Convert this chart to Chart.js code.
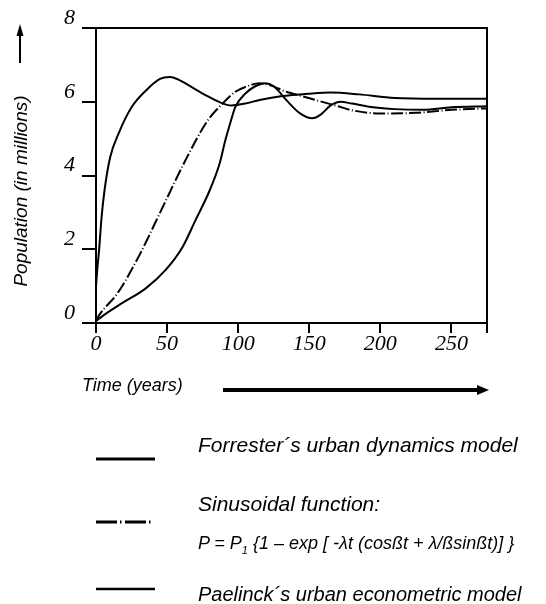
<!DOCTYPE html>
<html><head><meta charset="utf-8">
<script src="https://cdn.jsdelivr.net/npm/chart.js@4"></script>
<style>
html,body{margin:0;padding:0;background:#fff;}
#wrap{position:relative;width:546px;height:604px;overflow:hidden;background:#fff;}
#chartBox{position:absolute;left:0;top:0;width:546px;height:604px;}
.t{position:absolute;font-family:"Liberation Sans",Arial,sans-serif;font-style:italic;color:#000;white-space:nowrap;line-height:1;}
svg.ov{position:absolute;left:0;top:0;pointer-events:none;}
</style></head><body>
<div id="wrap">
  <div id="chartBox"><canvas id="c"></canvas></div>
  <svg class="ov" width="546" height="604">
    <line x1="20" y1="34" x2="20" y2="63" stroke="#000" stroke-width="2"/>
    <polygon points="20,24 16.5,36 23.5,36" fill="#000"/>
    <line x1="223" y1="390" x2="480" y2="390" stroke="#000" stroke-width="4"/>
    <polygon points="489,390 477,385 477,395" fill="#000"/>
    <line x1="96" y1="459" x2="155" y2="459" stroke="#000" stroke-width="3"/>
    <line x1="96" y1="522" x2="151" y2="522" stroke="#000" stroke-width="3" stroke-dasharray="21 3 1.5 3.5"/>
    <line x1="96" y1="589" x2="155" y2="589" stroke="#000" stroke-width="2.5"/>
  </svg>
  <div class="t" id="ytitle" style="left:20px;top:191px;font-size:19px;transform:translate(-50%,-50%) rotate(-90deg);">Population (in millions)</div>
  <div class="t" style="left:82px;top:376px;font-size:18px;">Time (years)</div>
  <div class="t" style="left:198px;top:434px;font-size:21px;">Forrester´s urban dynamics model</div>
  <div class="t" style="left:198px;top:493px;font-size:21px;">Sinusoidal function:</div>
  <div class="t" style="left:198px;top:534px;font-size:18px;">P = P<sub style="font-size:11px;line-height:0;">1</sub> {1 – exp [ -λt (cosßt + λ/ßsinßt)] }</div>
  <div class="t" style="left:198px;top:584px;font-size:20px;">Paelinck´s urban econometric model</div>
</div>
<script>
// ---- data ----
const xTickValues = [0, 50, 100, 150, 200, 250, 275];
const xTickLabels = ['0', '50', '100', '150', '200', '250', ''];
const yTickValues = [0, 2, 4, 6, 8];
const yTickLabels = ['0', '2', '4', '6', '8'];

const forresterYears = [0, 1, 2, 4, 6, 10, 16, 25, 35, 45, 52, 58, 65, 77, 88, 95, 105, 115, 130, 150, 165, 185, 210, 240, 275];
const forresterPop   = [1.0, 1.5, 1.9, 2.9, 3.6, 4.5, 5.15, 5.85, 6.3, 6.62, 6.67, 6.6, 6.45, 6.18, 5.97, 5.9, 5.95, 6.05, 6.15, 6.22, 6.25, 6.2, 6.1, 6.08, 6.08];

const sinusoidalYears = [0, 2, 15, 30, 47, 63, 78, 89, 98, 105, 115, 122, 134, 145, 157, 170, 180, 200, 225, 250, 275];
const sinusoidalPop   = [0.05, 0.2, 0.8, 1.8, 3.15, 4.42, 5.46, 5.95, 6.27, 6.4, 6.5, 6.45, 6.27, 6.15, 6.02, 5.88, 5.77, 5.68, 5.7, 5.78, 5.82];

const paelinckYears = [0, 5, 18, 35, 49, 61, 70, 80, 87, 91, 95, 98, 105, 112, 119, 125, 134, 143, 152, 158, 165, 172, 180, 195, 210, 230, 250, 275];
const paelinckPop   = [0.05, 0.2, 0.53, 0.94, 1.44, 2.07, 2.79, 3.6, 4.33, 4.96, 5.5, 5.86, 6.22, 6.42, 6.5, 6.42, 6.04, 5.7, 5.55, 5.65, 5.9, 6.0, 5.95, 5.85, 5.8, 5.78, 5.85, 5.88];

const seriesNames = ['Forrester´s urban dynamics model', 'Sinusoidal function', 'Paelinck´s urban econometric model'];

function pts(xs, ys) { return xs.map((x, i) => ({ x: x, y: ys[i] })); }

const tickFont = { family: '"Liberation Serif", "Times New Roman", serif', style: 'italic', size: 22, lineHeight: 1 };

const framePlugin = {
  id: 'frame',
  afterDraw(chart) {
    const a = chart.chartArea, ctx = chart.ctx;
    ctx.save();
    ctx.strokeStyle = '#000';
    ctx.lineWidth = 2;
    ctx.beginPath();
    ctx.moveTo(a.left, a.top);
    ctx.lineTo(a.right, a.top);
    ctx.lineTo(a.right, a.bottom);
    ctx.stroke();
    ctx.restore();
  }
};

const common = { borderColor: '#000', borderWidth: 2, pointRadius: 0, fill: false, cubicInterpolationMode: 'monotone' };

new Chart(document.getElementById('c'), {
  type: 'line',
  data: {
    datasets: [
      Object.assign({ label: seriesNames[0], data: pts(forresterYears, forresterPop) }, common),
      Object.assign({ label: seriesNames[1], data: pts(sinusoidalYears, sinusoidalPop), borderDash: [12, 2.5, 1, 2.5] }, common),
      Object.assign({ label: seriesNames[2], data: pts(paelinckYears, paelinckPop) }, common)
    ]
  },
  options: {
    responsive: true,
    maintainAspectRatio: false,
    animation: false,
    layout: { padding: { left: 0, top: 28, right: 59, bottom: 241 } },
    plugins: { legend: { display: false }, tooltip: { enabled: false } },
    scales: {
      x: {
        type: 'linear', min: 0, max: 275,
        afterBuildTicks: s => { s.ticks = xTickValues.map(v => ({ value: v })); },
        afterFit: s => { s.height = 40; },
        grid: { drawOnChartArea: false, drawTicks: true, tickLength: 10, color: '#000', lineWidth: 2 },
        border: { display: true, color: '#000', width: 2 },
        ticks: {
          autoSkip: false, maxRotation: 0, minRotation: 0, padding: 0, color: '#000', font: tickFont,
          callback: v => xTickLabels[xTickValues.indexOf(v)]
        }
      },
      y: {
        type: 'linear', min: 0, max: 8,
        afterBuildTicks: s => { s.ticks = yTickValues.map(v => ({ value: v })); },
        afterFit: s => { s.width = 96; },
        grid: { drawOnChartArea: false, drawTicks: true, tickLength: 14, color: '#000', lineWidth: 2 },
        border: { display: true, color: '#000', width: 2 },
        ticks: {
          padding: 7, labelOffset: -10, color: '#000', font: tickFont,
          callback: v => yTickLabels[yTickValues.indexOf(v)]
        }
      }
    }
  },
  plugins: [framePlugin]
});
</script>
</body></html>
